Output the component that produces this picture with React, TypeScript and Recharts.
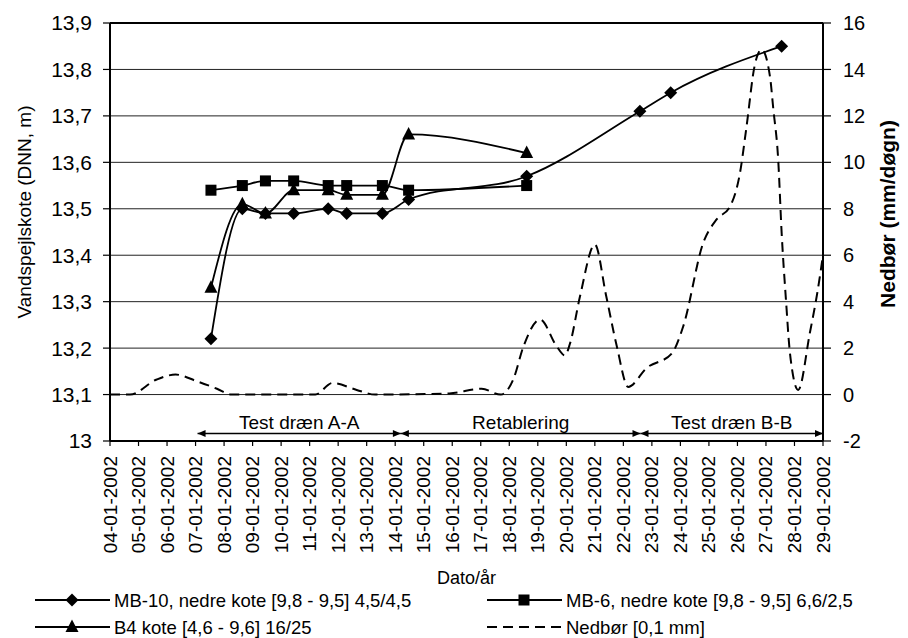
import {
  LineChart,
  Line,
  XAxis,
  YAxis,
  CartesianGrid,
  Legend,
  ReferenceLine,
  Label,
} from "recharts";

const FONT = '"Liberation Sans", Arial, sans-serif';

// measuring times, day of January 2002 (fractional = time of day)
const measDays = [7.54, 8.64, 9.45, 10.44, 11.65, 12.3, 13.55, 14.47, 18.61, 22.58, 23.66, 27.55];
const mb10 = [13.22, 13.5, 13.49, 13.49, 13.5, 13.49, 13.49, 13.52, 13.57, 13.71, 13.75, 13.85];
const mb6 = [13.54, 13.55, 13.56, 13.56, 13.55, 13.55, 13.55, 13.54, 13.55, null, null, null];
const b4 = [13.33, 13.51, 13.49, 13.54, 13.54, 13.53, 13.53, 13.66, 13.62, null, null, null];

// precipitation, mm/døgn
const rainDays = [
  4, 4.7, 5.64, 6.3, 7.05, 7.75, 8.25, 11.2, 11.8, 12.65, 13.3, 15.9, 17.03, 17.7,
  18.14, 18.5, 19.08, 19.66, 19.95, 20.13, 20.48, 21.0, 21.4, 21.77, 22.17, 22.82,
  23.7, 24.1, 24.8, 25.27, 25.74, 26.09, 26.32, 26.6, 26.85, 27.14, 27.26, 27.43,
  27.55, 27.7, 27.84, 28.13, 28.54, 28.8, 29,
];
const rainMm = [
  0, 0, 0.65, 0.86, 0.57, 0.25, 0, 0, 0.5, 0.2, 0, 0.05, 0.25, 0,
  0.65, 2.08, 3.23, 2.08, 1.68, 2.2, 4.23, 6.46, 4.23, 2.08, 0.33, 1.15,
  1.77, 2.94, 6.53, 7.54, 8.1, 9.55, 11.55, 14.14, 14.86, 13.7, 12.27, 10.1,
  6.96, 4.1, 1.8, 0.2, 2.66, 4.38, 6.0,
];

const tickDays = [4, 5, 6, 7, 8, 9, 10, 11, 12, 13, 14, 15, 16, 17, 18, 19, 20, 21, 22, 23, 24, 25, 26, 27, 28, 29];
const tickLabels = [
  "04-01-2002", "05-01-2002", "06-01-2002", "07-01-2002", "08-01-2002", "09-01-2002",
  "10-01-2002", "11-01-2002", "12-01-2002", "13-01-2002", "14-01-2002", "15-01-2002",
  "16-01-2002", "17-01-2002", "18-01-2002", "19-01-2002", "20-01-2002", "21-01-2002",
  "22-01-2002", "23-01-2002", "24-01-2002", "25-01-2002", "26-01-2002", "27-01-2002",
  "28-01-2002", "29-01-2002",
];
const leftTicks = [13, 13.1, 13.2, 13.3, 13.4, 13.5, 13.6, 13.7, 13.8, 13.9];
const rightTicks = [-2, 0, 2, 4, 6, 8, 10, 12, 14, 16];

// test phases drawn as arrows under the curves
const phaseNames = ["Test dræn A-A", "Retablering", "Test dræn B-B"];
const phaseStart = [7.07, 14.2, 22.6];
const phaseEnd = [14.2, 22.6, 29];
const phaseLevel = -1.68;

const levels = measDays.map((day, i) => ({ day, mb10: mb10[i], mb6: mb6[i], b4: b4[i] }));
const rain = rainDays.map((day, i) => ({ day, rain: rainMm[i] }));

const fmtLevel = (v: number) =>
  Number.isInteger(v) ? String(v) : v.toFixed(1).replace(".", ",");

function Marker({ kind, cx, cy }: { kind: string; cx: number; cy: number }) {
  if (kind === "diamond")
    return (
      <polygon
        points={`${cx},${cy - 6.5} ${cx + 6.5},${cy} ${cx},${cy + 6.5} ${cx - 6.5},${cy}`}
        fill="#000"
      />
    );
  if (kind === "square") return <rect x={cx - 5.5} y={cy - 5.5} width={11} height={11} fill="#000" />;
  return (
    <polygon
      points={`${cx},${cy - 7.5} ${cx + 6.5},${cy + 5} ${cx - 6.5},${cy + 5}`}
      fill="#000"
    />
  );
}

const dotOf = (kind: string) => (props: any) => {
  const { cx, cy, index, value } = props;
  if (value == null || cx == null || cy == null) return <g key={`${kind}-${index}`} />;
  return (
    <g key={`${kind}-${index}`}>
      <Marker kind={kind} cx={cx} cy={cy} />
    </g>
  );
};

function DateTick(props: any) {
  const { x, y, payload } = props;
  const i = tickDays.indexOf(payload.value);
  const ty = y + 8;
  return (
    <text
      x={x}
      y={ty}
      transform={`rotate(-90 ${x} ${ty})`}
      textAnchor="end"
      dominantBaseline="central"
      fontFamily={FONT}
      fontSize={19}
      fill="#000"
    >
      {tickLabels[i]}
    </text>
  );
}

function PhaseArrow(props: any) {
  const { x1, y1, x2, name } = props;
  const a = Number(x1);
  const b = Number(x2);
  const y = Number(y1);
  return (
    <g>
      <line x1={a} y1={y} x2={b} y2={y} stroke="#000" strokeWidth={1.5} />
      <polygon points={`${a},${y} ${a + 8},${y - 3.5} ${a + 8},${y + 3.5}`} fill="#000" />
      <polygon points={`${b},${y} ${b - 8},${y - 3.5} ${b - 8},${y + 3.5}`} fill="#000" />
      <text
        x={(a + b) / 2}
        y={y - 5}
        textAnchor="middle"
        fontFamily={FONT}
        fontSize={19}
        fill="#000"
      >
        {name}
      </text>
    </g>
  );
}

const legendSlots: Record<string, { col: number; row: number; kind: string }> = {
  mb10: { col: 0, row: 0, kind: "diamond" },
  mb6: { col: 1, row: 0, kind: "square" },
  b4: { col: 0, row: 1, kind: "triangle" },
  rain: { col: 1, row: 1, kind: "dash" },
};

function LegendBox(props: any) {
  const { payload = [] } = props;
  const colX = [35, 487];
  const rowY = [20, 47];
  return (
    <svg width={908} height={58} style={{ display: "block" }}>
      {payload.map((entry: any) => {
        const slot = legendSlots[entry.dataKey];
        if (!slot) return null;
        const x0 = colX[slot.col];
        const y = rowY[slot.row];
        return (
          <g key={entry.dataKey}>
            <line
              x1={x0}
              y1={y}
              x2={x0 + 75}
              y2={y}
              stroke="#000"
              strokeWidth={1.8}
              strokeDasharray={slot.kind === "dash" ? "10 6" : undefined}
            />
            {slot.kind !== "dash" && <Marker kind={slot.kind} cx={x0 + 37} cy={y} />}
            <text
              x={x0 + 79}
              y={y}
              dominantBaseline="central"
              fontFamily={FONT}
              fontSize={18.5}
              fill="#000"
            >
              {entry.value}
            </text>
          </g>
        );
      })}
    </svg>
  );
}

export default function App() {
  return (
    <div style={{ position: "absolute", left: 0, top: 0 }}>
      <LineChart
        width={908}
        height={638}
        data={levels}
        margin={{ top: 23, right: 0, left: 0, bottom: 0 }}
        style={{ fontFamily: FONT, background: "#fff" }}
      >
        <CartesianGrid vertical={false} stroke="#222" strokeWidth={1} yAxisId="left" />
        <XAxis
          dataKey="day"
          type="number"
          domain={[4, 29]}
          ticks={tickDays}
          interval={0}
          height={139}
          tick={<DateTick />}
          tickSize={5}
          tickLine={{ stroke: "#000", strokeWidth: 1.2 }}
          axisLine={{ stroke: "#000", strokeWidth: 2 }}
          allowDataOverflow
        >
          <Label
            content={(p: any) => {
              const vb = p.viewBox;
              return (
                <text
                  x={vb.x + vb.width / 2}
                  y={578}
                  textAnchor="middle"
                  dominantBaseline="central"
                  fontFamily={FONT}
                  fontSize={18}
                  fill="#000"
                >
                  Dato/år
                </text>
              );
            }}
          />
        </XAxis>
        <YAxis
          yAxisId="left"
          width={110}
          domain={[13, 13.9]}
          ticks={leftTicks}
          interval={0}
          tickFormatter={fmtLevel}
          tick={{ fill: "#000", fontSize: 21, fontFamily: FONT }}
          tickSize={7}
          tickMargin={11}
          tickLine={{ stroke: "#000", strokeWidth: 1.2 }}
          axisLine={{ stroke: "#000", strokeWidth: 2 }}
          allowDataOverflow
        >
          <Label
            content={(p: any) => {
              const vb = p.viewBox;
              const cx = vb.x + 24;
              const cy = 212;
              return (
                <text
                  x={cx}
                  y={cy}
                  transform={`rotate(-90 ${cx} ${cy})`}
                  textAnchor="middle"
                  dominantBaseline="central"
                  fontFamily={FONT}
                  fontSize={19}
                  fill="#000"
                >
                  Vandspejlskote (DNN, m)
                </text>
              );
            }}
          />
        </YAxis>
        <YAxis
          yAxisId="right"
          orientation="right"
          width={85}
          domain={[-2, 16]}
          ticks={rightTicks}
          interval={0}
          tick={{ fill: "#000", fontSize: 20, fontFamily: FONT }}
          tickSize={8}
          tickMargin={12}
          tickLine={{ stroke: "#000", strokeWidth: 1.2 }}
          axisLine={{ stroke: "#000", strokeWidth: 2 }}
          allowDataOverflow
        >
          <Label
            content={(p: any) => {
              const vb = p.viewBox;
              const cx = vb.x + 64;
              const cy = 214;
              return (
                <text
                  x={cx}
                  y={cy}
                  transform={`rotate(-90 ${cx} ${cy})`}
                  textAnchor="middle"
                  dominantBaseline="central"
                  fontFamily={FONT}
                  fontSize={21}
                  fontWeight="bold"
                  fill="#000"
                >
                  Nedbør (mm/døgn)
                </text>
              );
            }}
          />
        </YAxis>
        <ReferenceLine yAxisId="left" y={13.9} stroke="#000" strokeWidth={2} />
        {phaseNames.map((name, i) => (
          <ReferenceLine
            key={name}
            yAxisId="right"
            segment={[
              { x: phaseStart[i], y: phaseLevel },
              { x: phaseEnd[i], y: phaseLevel },
            ]}
            shape={(p: any) => <PhaseArrow {...p} name={name} />}
          />
        ))}
        <Line
          yAxisId="right"
          data={rain}
          dataKey="rain"
          name="Nedbør [0,1 mm]"
          type="monotone"
          stroke="#000"
          strokeWidth={2}
          strokeDasharray="10 6"
          dot={false}
          isAnimationActive={false}
        />
        <Line
          yAxisId="left"
          dataKey="mb10"
          name="MB-10, nedre kote [9,8 - 9,5] 4,5/4,5"
          type="monotone"
          stroke="#000"
          strokeWidth={1.8}
          dot={dotOf("diamond")}
          isAnimationActive={false}
        />
        <Line
          yAxisId="left"
          dataKey="mb6"
          name="MB-6, nedre kote [9,8 - 9,5] 6,6/2,5"
          type="monotone"
          stroke="#000"
          strokeWidth={1.8}
          dot={dotOf("square")}
          isAnimationActive={false}
        />
        <Line
          yAxisId="left"
          dataKey="b4"
          name="B4 kote [4,6 - 9,6] 16/25"
          type="monotone"
          stroke="#000"
          strokeWidth={1.8}
          dot={dotOf("triangle")}
          isAnimationActive={false}
        />
        <Legend verticalAlign="bottom" content={<LegendBox />} />
      </LineChart>
    </div>
  );
}
